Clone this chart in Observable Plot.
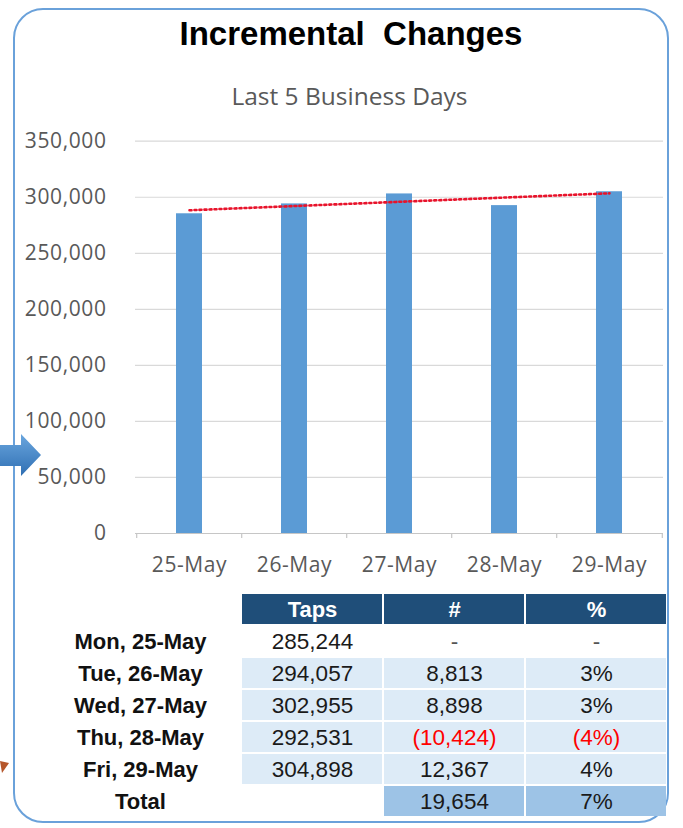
<!DOCTYPE html>
<html>
<head>
<meta charset="utf-8">
<script src="https://cdn.jsdelivr.net/npm/d3@7"></script>
<script src="https://cdn.jsdelivr.net/npm/@observablehq/plot@0.6"></script>
<style>
  html, body { margin: 0; padding: 0; background: #fff; }
  #page { position: relative; width: 683px; height: 828px; overflow: hidden; background: #fff; }
  #frame { position: absolute; left: 13px; top: 8px; width: 656px; height: 815px; box-sizing: border-box;
           border: 2px solid #6aa1da; border-radius: 30px; }
  #title { position: absolute; left: 0; width: 702px; top: 15px; text-align: center;
           font: bold 33px "Liberation Sans", Arial, sans-serif; color: #000; line-height: 38px; white-space: pre; }
  #subtitle { position: absolute; left: 0; width: 699px; top: 81px; text-align: center;
              font: 24.5px "Open Sans", sans-serif; color: #595959; line-height: 30px; }
  #chart { position: absolute; left: 0; top: 120px; }
  #table { position: absolute; left: 0; top: 584px; }
  #deco { position: absolute; left: 0; top: 0; }
</style>
</head>
<body>
<div id="page">
  <div id="frame"></div>
  <div id="title">Incremental  Changes</div>
  <div id="subtitle">Last 5 Business Days</div>
  <div id="chart"></div>
  <div id="table"></div>
  <svg id="deco" width="683" height="828">
    <defs>
      <linearGradient id="ag" x1="0" y1="0" x2="0" y2="1">
        <stop offset="0" stop-color="#6aa6de"/>
        <stop offset="1" stop-color="#2f6fb3"/>
      </linearGradient>
    </defs>
    <polygon points="0,445 21,445 21,434 41,455 21,476 21,466 0,466" fill="url(#ag)"/>
    <polygon points="0,761 9,763 2,773" fill="#b5562b"/>
  </svg>
</div>
<script>
// ---- data ----
const dates = ["25-May", "26-May", "27-May", "28-May", "29-May"];
const taps = [285244, 294057, 302955, 292531, 304898];
const yTicks = [0, 50000, 100000, 150000, 200000, 250000, 300000, 350000];

const rowLabels = ["Mon, 25-May", "Tue, 26-May", "Wed, 27-May", "Thu, 28-May", "Fri, 29-May", "Total"];
const tableHeaders = ["Taps", "#", "%"];
const changeNum = [null, 8813, 8898, -10424, 12367];
const changePct = [null, 3, 3, -4, 4];
const totalNum = 19654;
const totalPct = 7;

// ---- chart ----
const rows = dates.map((d, i) => ({date: d, taps: taps[i]}));
const mx = d3.mean(taps, (d, i) => i);
const my = d3.mean(taps);
const slope = d3.sum(taps, (d, i) => (i - mx) * (d - my)) / d3.sum(taps, (d, i) => (i - mx) ** 2);
const trend = dates.map((d, i) => ({date: d, value: my + slope * (i - mx)}));

const chart = Plot.plot({
  width: 683,
  height: 470,
  marginTop: 20.7,
  marginBottom: 57,
  marginLeft: 135,
  marginRight: 20,
  style: {fontFamily: "'Open Sans', sans-serif", fontSize: "21px", color: "#595959", background: "transparent", overflow: "visible"},
  x: {domain: dates, paddingInner: 0.754, paddingOuter: 0.377, label: null, tickSize: 0, tickPadding: 24},
  y: {domain: [0, 350000], ticks: yTicks, tickFormat: d3.format(","), label: null, tickSize: 0, tickPadding: 29},
  marks: [
    Plot.ruleY(yTicks.filter(v => v > 0), {stroke: "#d9d9d9", strokeWidth: 1.2}),
    Plot.ruleY([0], {stroke: "#c6c6c6", strokeWidth: 1.2}),
    Plot.ruleX(dates, {x: d => d, y1: 0, y2: 0, insetTop: 5, dx: -52.8, stroke: "#c6c6c6", strokeWidth: 1.2}),
    Plot.ruleX(dates.slice(-1), {x: d => d, y1: 0, y2: 0, insetTop: 5, dx: 52.8, stroke: "#c6c6c6", strokeWidth: 1.2}),
    Plot.barY(rows, {x: "date", y: "taps", fill: "#5b9bd5"}),
    Plot.line(trend, {x: "date", y: "value", stroke: "#e8132b", strokeWidth: 2.6, strokeDasharray: "2 3"})
  ]
});
chart.querySelectorAll("text").forEach(t => t.setAttribute("letter-spacing", "0.6"));
document.getElementById("chart").appendChild(chart);

// ---- table ----
const rowKeys = ["head", ...rowLabels];
const fmt = d3.format(",");
const fmtNum = v => v == null ? "-" : v < 0 ? `(${fmt(-v)})` : fmt(v);
const fmtPct = v => v == null ? "-" : v < 0 ? `(${-v}%)` : `${v}%`;
const colorOf = v => v == null ? "#555555" : v < 0 ? "#ff0000" : "#1a1a1a";

const cells = [];
const heads = tableHeaders.map(c => ({row: "head", col: c, label: c}));
const texts = [];
tableHeaders.forEach(c => cells.push({row: "head", col: c, fill: "#1f4e79"}));
dates.forEach((d, i) => {
  const r = rowLabels[i];
  if (i > 0) tableHeaders.forEach(c => cells.push({row: r, col: c, fill: "#ddebf7"}));
  texts.push({row: r, col: "Taps", label: fmt(taps[i]), color: "#1a1a1a"});
  texts.push({row: r, col: "#", label: fmtNum(changeNum[i]), color: colorOf(changeNum[i])});
  texts.push({row: r, col: "%", label: fmtPct(changePct[i]), color: colorOf(changePct[i])});
});
cells.push({row: "Total", col: "#", fill: "#9dc3e6"});
cells.push({row: "Total", col: "%", fill: "#9dc3e6"});
texts.push({row: "Total", col: "#", label: fmtNum(totalNum), color: "#1a1a1a"});
texts.push({row: "Total", col: "%", label: fmtPct(totalPct), color: "#1a1a1a"});

const table = Plot.plot({
  width: 683,
  height: 240,
  marginTop: 8,
  marginBottom: 6,
  marginLeft: 240,
  marginRight: 16,
  style: {fontFamily: "'Liberation Sans', Arial, sans-serif", fontSize: "22px", background: "transparent", overflow: "visible"},
  x: {domain: tableHeaders, padding: 0, axis: null},
  y: {domain: rowKeys, padding: 0, axis: null},
  marks: [
    Plot.cell(cells, {x: "col", y: "row", fill: d => d.fill, inset: 1}),
    Plot.text(heads, {x: "col", y: "row", text: "label", fill: "#ffffff", fontWeight: "bold", fontSize: 22}),
    Plot.text(texts, {x: "col", y: "row", text: "label", fill: d => d.color, fontSize: 22.5}),
    Plot.text(rowLabels, {y: d => d, text: d => d, frameAnchor: "left", dx: -100, textAnchor: "middle", fontWeight: "bold", fill: "#111", fontSize: 22})
  ]
});
document.getElementById("table").appendChild(table);
</script>
</body>
</html>
